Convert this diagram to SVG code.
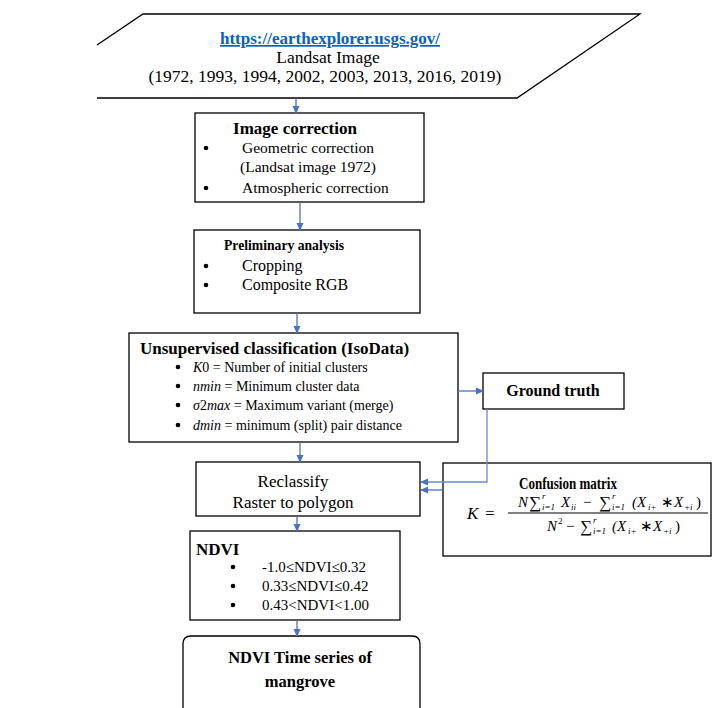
<svg xmlns="http://www.w3.org/2000/svg" width="724" height="708" viewBox="0 0 724 708">
<defs>
<style>
.box{fill:#fff;stroke:#000;stroke-width:1.3}
.t{font-family:"Liberation Serif","Times New Roman",serif;fill:#000}
.b{font-weight:bold}
.i{font-style:italic}
.c{text-anchor:middle}
.conn{stroke:#4a72c4;stroke-width:1.3;fill:none}
.gt{stroke:#6f86cc;stroke-width:1.3;fill:none}
.dot{fill:#000}
.f{font-size:15px}
.s{font-size:9px}
.sum{font-size:17px}
</style>
<marker id="ah" markerWidth="8" markerHeight="8" refX="7" refY="4" orient="auto" markerUnits="userSpaceOnUse"><path d="M0,0.5 L8,4 L0,7.5 z" fill="#4a72c4"/></marker>
</defs>
<rect width="724" height="708" fill="#fff"/>

<g id="landsat">
<path class="box" d="M97,45 L143,14 L640,14 L517,98 L97,98"/>
<text class="t b c" x="330" y="44" font-size="17" style="fill:#0563C1" text-decoration="underline">https://earthexplorer.usgs.gov/</text>
<text class="t c" x="328" y="63" font-size="17.5">Landsat Image</text>
<text class="t c" x="325" y="82" font-size="17.5">(1972, 1993, 1994, 2002, 2003, 2013, 2016, 2019)</text>
</g>

<g id="image-correction">
<rect class="box" x="195" y="113" width="229" height="89"/>
<text class="t b c" x="295" y="134" font-size="17">Image correction</text>
<circle class="dot" cx="206" cy="148" r="2.3"/>
<text class="t" x="242" y="153" font-size="15.5">Geometric correction</text>
<text class="t" x="240" y="172" font-size="15.5">(Landsat image 1972)</text>
<circle class="dot" cx="206" cy="188" r="2.3"/>
<text class="t" x="242" y="193" font-size="15.5">Atmospheric correction</text>
</g>

<g id="preliminary">
<rect class="box" x="194" y="230" width="226" height="83"/>
<text class="t b" x="224" y="250" font-size="15.5" textLength="120" lengthAdjust="spacingAndGlyphs">Preliminary analysis</text>
<circle class="dot" cx="206" cy="266" r="2.3"/>
<text class="t" x="242" y="271" font-size="16">Cropping</text>
<circle class="dot" cx="206" cy="285" r="2.3"/>
<text class="t" x="242" y="290" font-size="16">Composite RGB</text>
</g>

<g id="unsupervised">
<rect class="box" x="129" y="333" width="329" height="109"/>
<text class="t b" x="140" y="354" font-size="17">Unsupervised classification (IsoData)</text>
<circle class="dot" cx="178" cy="367" r="2.3"/>
<text class="t" x="193" y="372" font-size="14"><tspan class="i">K</tspan>0 = Number of initial clusters</text>
<circle class="dot" cx="178" cy="386" r="2.3"/>
<text class="t" x="193" y="391" font-size="14"><tspan class="i">nmin</tspan> = Minimum cluster data</text>
<circle class="dot" cx="178" cy="405" r="2.3"/>
<text class="t" x="193" y="410" font-size="14"><tspan class="i">σ</tspan>2<tspan class="i">max</tspan> = Maximum variant (merge)</text>
<circle class="dot" cx="178" cy="425" r="2.3"/>
<text class="t" x="193" y="430" font-size="14"><tspan class="i">dmin</tspan> = minimum (split) pair distance</text>
</g>

<g id="ground-truth">
<rect class="box" x="483" y="373" width="141" height="36"/>
<text class="t b c" x="553" y="396" font-size="16">Ground truth</text>
</g>

<g id="reclassify">
<rect class="box" x="196" y="462" width="224" height="54"/>
<text class="t c" x="293" y="487" font-size="17">Reclassify</text>
<text class="t c" x="293" y="508" font-size="17">Raster to polygon</text>
</g>

<g id="confusion-matrix">
<rect class="box" x="443" y="463" width="268" height="93"/>
<text class="t b c" x="568" y="489" font-size="16" textLength="98" lengthAdjust="spacingAndGlyphs">Confusion matrix</text>
<text class="t i" x="467" y="519" font-size="17">K</text>
<text class="t" x="485" y="519" font-size="17">=</text>
<line x1="508" y1="513" x2="708" y2="513" stroke="#000" stroke-width="1"/>
<text class="t i f" x="518" y="507">N</text>
<text class="t sum" x="529" y="508">∑</text>
<text class="t i s" x="542" y="499">r</text>
<text class="t i s" x="542" y="510">i=1</text>
<text class="t i f" x="561" y="507">X</text>
<text class="t i s" x="571" y="510">ii</text>
<text class="t f" x="583" y="507">−</text>
<text class="t sum" x="599" y="508">∑</text>
<text class="t i s" x="612" y="499">r</text>
<text class="t i s" x="612" y="510">i=1</text>
<text class="t i f" x="632" y="507">(X</text>
<text class="t i s" x="648" y="510">i+</text>
<text class="t f" x="661" y="507">∗</text>
<text class="t i f" x="674" y="507">X</text>
<text class="t i s" x="684" y="510">+i</text>
<text class="t f" x="696" y="507">)</text>
<text class="t i f" x="547" y="531">N</text>
<text class="t s" x="558" y="524">2</text>
<text class="t f" x="566" y="531">−</text>
<text class="t sum" x="580" y="532">∑</text>
<text class="t i s" x="593" y="523">r</text>
<text class="t i s" x="593" y="534">i=1</text>
<text class="t i f" x="612" y="531">(X</text>
<text class="t i s" x="628" y="534">i+</text>
<text class="t f" x="640" y="531">∗</text>
<text class="t i f" x="653" y="531">X</text>
<text class="t i s" x="663" y="534">+i</text>
<text class="t f" x="675" y="531">)</text>
</g>

<g id="ndvi">
<rect class="box" x="190" y="531" width="210" height="89"/>
<text class="t b" x="196" y="555" font-size="17">NDVI</text>
<circle class="dot" cx="233" cy="567" r="2.3"/>
<text class="t" x="262" y="572" font-size="15">-1.0≤NDVI≤0.32</text>
<circle class="dot" cx="233" cy="586" r="2.3"/>
<text class="t" x="262" y="591" font-size="15">0.33≤NDVI≤0.42</text>
<circle class="dot" cx="233" cy="605" r="2.3"/>
<text class="t" x="262" y="610" font-size="15">0.43&lt;NDVI&lt;1.00</text>
</g>

<g id="time-series">
<path class="box" d="M183,712 L183,644 Q183,636 191,636 L412,636 Q420,636 420,644 L420,712"/>
<text class="t b c" x="300" y="663" font-size="16.5">NDVI Time series of</text>
<text class="t b c" x="300" y="687" font-size="16.5">mangrove</text>
</g>

<g id="connectors">
<line class="conn" x1="296" y1="98" x2="296" y2="113" marker-end="url(#ah)"/>
<line class="conn" x1="300" y1="202" x2="300" y2="230" marker-end="url(#ah)"/>
<line class="conn" x1="297" y1="313" x2="297" y2="333" marker-end="url(#ah)"/>
<line class="conn" x1="300" y1="442" x2="300" y2="462" marker-end="url(#ah)"/>
<line class="conn" x1="297" y1="516" x2="297" y2="531" marker-end="url(#ah)"/>
<line class="conn" x1="297" y1="620" x2="297" y2="636" marker-end="url(#ah)"/>
<line class="conn" x1="458" y1="391" x2="483" y2="391" marker-end="url(#ah)"/>
<polyline class="gt" points="487,409 487,482 421,482" marker-end="url(#ah)"/>
<line class="conn" x1="443" y1="490" x2="421" y2="490" marker-end="url(#ah)"/>
</g>
</svg>
